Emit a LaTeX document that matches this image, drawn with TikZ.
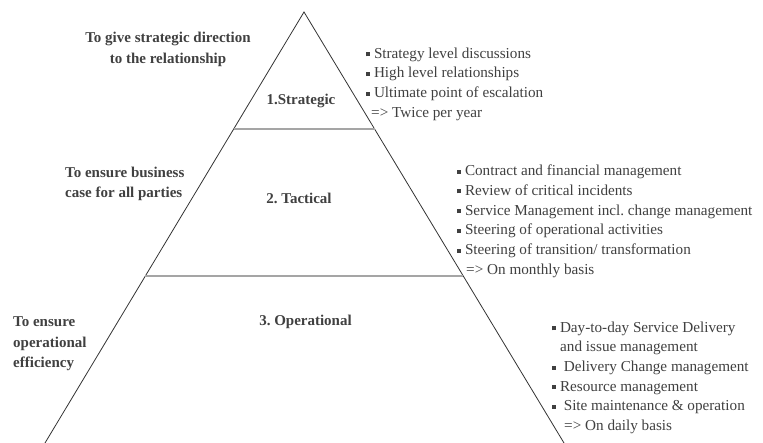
\documentclass[tikz,border=0pt]{standalone}
\usepackage{fontspec}
\setmainfont{Liberation Serif}
\usetikzlibrary{calc}
\definecolor{txtgray}{RGB}{64,64,64}
\definecolor{linegray}{RGB}{165,165,165}
\newcommand{\sqbullet}{\rule[1.9pt]{4pt}{4pt}}
\frenchspacing

\begin{document}
\begin{tikzpicture}[x=1pt, y=1pt,
    every node/.style={inner sep=0pt, text=txtgray, font=\fontsize{15.2}{19.6}\selectfont},
    level/.style={font=\bfseries\fontsize{15}{20}\selectfont, anchor=base},
    goal/.style={font=\bfseries\fontsize{15}{20.5}\selectfont, anchor=north west, align=left},
    items/.style={anchor=north west, align=left},
    edge/.style={draw=black!80, line width=0.8pt},
    divider/.style={draw=linegray, line width=1.2pt}]
    \useasboundingbox (0,0) rectangle (763,-443);

    % pyramid
    \coordinate (top) at (304,-12);
    \coordinate (bl) at (45,-443);
    \coordinate (br) at (564,-443);
    \draw[edge] (bl) -- (top) -- (br);
    \foreach \t in {0.2715,0.6125}
        \draw[divider] ($(top)!\t!(bl)$) -- ($(top)!\t!(br)$);

    % levels
    \node[level] (strategic) at (301,-104.5) {1.Strategic};
    \node[level] (tactical) at (299,-204) {2. Tactical};
    \node[level] (operational) at (305.5,-326) {3. Operational};

    % goals
    \node[goal, anchor=north, align=center] (goalS) at (168,-32)
        {To give strategic direction\\to the relationship};
    \node[goal] (goalT) at (65,-166.5)
        {To ensure business\\case for all parties};
    \node[goal] (goalO) at (13,-316.5)
        {To ensure\\operational\\efficiency};

    % activities
    \node[items] (listS) at (366,-47.6)
        {\sqbullet\ Strategy level discussions\\
         \sqbullet\ High level relationships\\
         \sqbullet\ Ultimate point of escalation\\
         \hspace{5pt}=> Twice per year};
    \node[items] (listT) at (457,-164.6)
        {\sqbullet\ Contract and financial management\\[0.2pt]
         \sqbullet\ Review of critical incidents\\[0.2pt]
         \sqbullet\ Service Management incl. change management\\[0.2pt]
         \sqbullet\ Steering of operational activities\\[0.2pt]
         \sqbullet\ Steering of transition/ transformation\\[0.2pt]
         \hspace{9pt}=> On monthly basis};
    \node[items] (listO) at (552,-321.5)
        {\sqbullet\ Day-to-day Service Delivery\\
         \hspace{8pt}and issue management\\
         \sqbullet\ \ Delivery Change management\\
         \sqbullet\ Resource management\\
         \sqbullet\ \ Site maintenance \& operation\\
         \hspace{12pt}=> On daily basis};
\end{tikzpicture}
\end{document}
